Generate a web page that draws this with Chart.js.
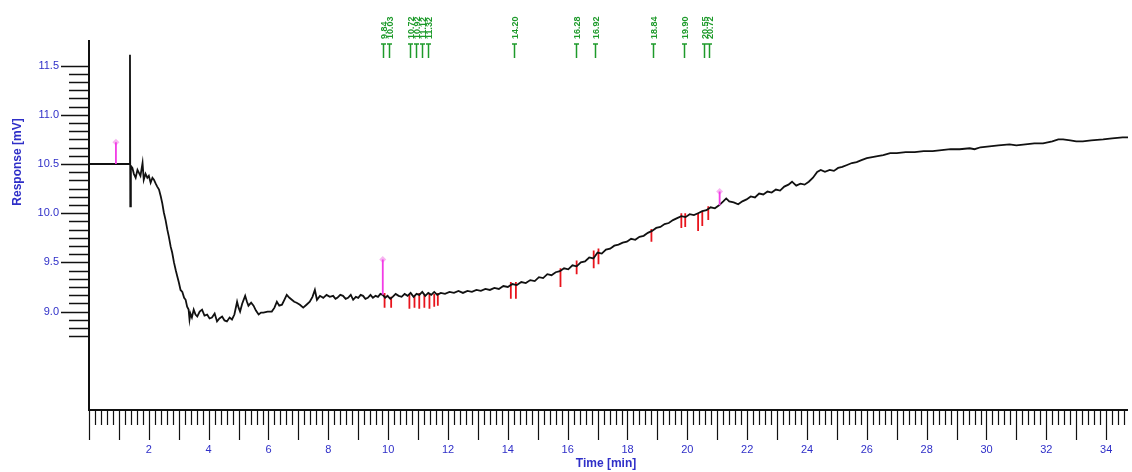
<!DOCTYPE html>
<html>
<head>
<meta charset="utf-8">
<script src="https://cdn.jsdelivr.net/npm/chart.js@4.4.1/dist/chart.umd.min.js"></script>
<style>
  html,body{margin:0;padding:0;background:#fff;}
  canvas{display:block;}
</style>
</head>
<body>
<canvas id="chromChart" width="1132" height="472"></canvas>
<script>
// Trace: time [min] / response [mV]
const times = [0.00,1.36,1.37,1.38,1.40,1.45,1.50,1.56,1.62,1.67,1.72,1.79,1.83,1.89,1.95,2.00,2.06,2.12,2.17,2.23,2.28,2.34,2.40,2.45,2.50,2.56,2.62,2.67,2.73,2.78,2.84,2.90,2.95,3.00,3.06,3.12,3.18,3.23,3.28,3.33,3.36,3.39,3.44,3.50,3.56,3.62,3.70,3.78,3.86,3.95,4.03,4.11,4.20,4.28,4.36,4.45,4.53,4.61,4.70,4.78,4.86,4.95,5.00,5.05,5.12,5.22,5.28,5.33,5.42,5.50,5.58,5.67,5.75,5.83,5.97,6.11,6.20,6.28,6.36,6.45,6.53,6.61,6.70,6.78,6.86,6.94,7.05,7.16,7.27,7.38,7.47,7.55,7.62,7.72,7.83,7.94,
  8.05,8.16,8.24,8.30,8.40,8.49,8.58,8.66,8.75,8.83,8.92,9.00,9.08,9.16,9.24,9.32,9.41,9.49,9.58,9.66,9.74,9.82,9.90,9.98,10.07,10.15,10.25,10.35,10.45,10.55,10.65,10.75,10.85,10.95,11.04,11.14,11.24,11.34,11.44,11.54,11.64,11.76,11.90,12.05,12.20,12.35,12.50,12.65,12.80,12.95,13.10,13.25,13.40,13.55,13.70,13.85,14.00,14.15,14.30,14.45,14.60,14.75,14.90,15.04,15.18,15.32,15.46,15.60,15.74,15.88,16.02,16.16,16.30,16.44,16.58,16.72,16.86,17.00,17.14,17.28,17.42,17.56,17.70,17.84,17.98,18.12,18.26,18.40,18.54,18.68,18.82,18.96,19.10,19.24,19.38,19.52,19.66,19.80,19.94,20.08,20.22,20.36,20.50,20.64,20.78,20.92,21.06,21.20,21.30,21.40,21.55,21.70,21.84,21.98,22.12,22.26,22.40,22.54,22.68,22.82,22.96,23.10,23.24,23.38,23.50,23.64,23.78,23.92,24.06,24.20,24.34,24.46,24.60,24.76,24.90,25.04,25.18,25.34,25.50,25.66,25.82,26.00,26.18,26.36,26.55,26.78,27.00,27.30,27.60,27.90,28.20,28.50,28.80,29.10,29.44,29.60,29.80,30.10,30.40,30.77,31.00,31.30,31.60,31.89,32.20,32.40,32.56,32.80,33.00,33.22,33.50,33.90,34.20,34.55,34.73];
const response = [10.50,10.50,11.61,10.07,10.48,10.46,10.40,10.36,10.44,10.41,10.38,10.51,10.34,10.40,10.36,10.38,10.31,10.36,10.34,10.30,10.27,10.24,10.17,10.10,10.01,9.93,9.83,9.76,9.66,9.60,9.50,9.42,9.36,9.30,9.22,9.20,9.14,9.12,9.05,9.02,8.92,8.98,8.94,9.02,8.97,8.95,9.00,9.02,8.96,8.97,8.93,8.94,8.98,8.90,8.93,8.95,8.91,8.90,8.94,8.92,8.97,9.10,9.04,9.00,9.08,9.16,9.10,9.06,9.09,9.06,9.01,8.97,8.99,8.99,9.00,9.00,9.04,9.10,9.06,9.07,9.12,9.17,9.14,9.12,9.10,9.09,9.07,9.04,9.07,9.10,9.15,9.22,9.12,9.16,9.14,9.17,
  9.15,9.16,9.13,9.14,9.17,9.16,9.13,9.14,9.17,9.12,9.15,9.14,9.17,9.16,9.13,9.14,9.17,9.14,9.16,9.15,9.18,9.17,9.14,9.16,9.13,9.15,9.18,9.16,9.15,9.18,9.16,9.19,9.15,9.18,9.17,9.20,9.16,9.19,9.17,9.20,9.17,9.19,9.18,9.20,9.19,9.21,9.19,9.21,9.20,9.22,9.21,9.23,9.22,9.24,9.23,9.26,9.25,9.28,9.27,9.30,9.29,9.32,9.31,9.35,9.34,9.38,9.37,9.40,9.41,9.44,9.43,9.47,9.46,9.50,9.51,9.55,9.54,9.60,9.59,9.63,9.64,9.67,9.68,9.70,9.71,9.74,9.73,9.76,9.77,9.80,9.82,9.85,9.86,9.89,9.90,9.93,9.95,9.97,9.96,9.99,9.98,10.00,10.02,10.03,10.06,10.05,10.08,10.12,10.15,10.12,10.11,10.09,10.12,10.14,10.17,10.16,10.20,10.19,10.22,10.21,10.24,10.23,10.27,10.29,10.32,10.28,10.30,10.29,10.32,10.36,10.42,10.44,10.42,10.44,10.43,10.46,10.47,10.49,10.51,10.52,10.54,10.56,10.57,10.58,10.59,10.61,10.61,10.62,10.62,10.63,10.63,10.64,10.65,10.65,10.66,10.65,10.67,10.68,10.69,10.70,10.69,10.70,10.71,10.71,10.73,10.75,10.75,10.74,10.73,10.73,10.74,10.75,10.76,10.77,10.77];

// Integration marks (red), peak start / end
const markTimes = [9.88,10.10,10.71,10.88,11.04,11.21,11.38,11.54,11.66,14.10,14.27,15.76,16.30,16.87,17.03,18.80,19.80,19.93,20.36,20.50,20.70];
const markHigh  = [9.19,9.15,9.17,9.16,9.19,9.17,9.18,9.18,9.19,9.30,9.30,9.44,9.52,9.62,9.64,9.84,10.00,10.00,10.00,10.02,10.07];
const markLow   = [9.04,9.04,9.03,9.04,9.03,9.04,9.03,9.05,9.06,9.13,9.13,9.25,9.38,9.44,9.48,9.71,9.85,9.86,9.82,9.87,9.93];

// Events (magenta)
const eventTimes = [0.90,9.82,21.08];
const eventLow   = [10.50,9.17,10.08];
const eventHigh  = [10.72,9.53,10.22];

// Retention time labels on top
const peakTimes  = [9.84,10.03,10.72,10.92,11.12,11.32,14.20,16.28,16.92,18.84,19.90,20.55,20.72];
const peakLabels = ['9.84','10.03','10.72','10.92','11.12','11.32','14.20','16.28','16.92','18.84','19.90','20.55','20.72'];

// Axis ticks
const xTickLabels = [2,4,6,8,10,12,14,16,18,20,22,24,26,28,30,32,34];
const yTickLabels = ['9.0','9.5','10.0','10.5','11.0','11.5'];

const X_MAX = 34.73, Y_MIN = 8.0, Y_MAX = 11.76;
const axisBlue = '#2f2fc8';

function segments(xs, lo, hi){
  const pts = [];
  xs.forEach((t,i) => { pts.push({x:t,y:lo[i]}, {x:t,y:hi[i]}, {x:t,y:null}); });
  return pts;
}

const axesPlugin = {
  id:'chromAxes',
  afterDraw(chart){
    const {ctx, chartArea:a, scales:{x, y}} = chart;
    ctx.save();
    ctx.strokeStyle = '#111';
    ctx.lineWidth = 2;
    ctx.beginPath();
    ctx.moveTo(a.left, a.top); ctx.lineTo(a.left, a.bottom); ctx.lineTo(a.right, a.bottom);
    ctx.stroke();

    // y ticks
    ctx.lineWidth = 1.5;
    for (let v = 8.75; v <= 11.501; v += 0.5/6){
      const py = Math.round(y.getPixelForValue(v)) + 0.5;
      const major = Math.abs(v*2 - Math.round(v*2)) < 0.01;
      ctx.beginPath(); ctx.moveTo(a.left - (major ? 28 : 20), py); ctx.lineTo(a.left, py); ctx.stroke();
    }
    ctx.fillStyle = axisBlue;
    ctx.font = '11px "Liberation Sans", Arial, sans-serif';
    ctx.textAlign = 'right'; ctx.textBaseline = 'middle';
    yTickLabels.forEach(l => ctx.fillText(l, a.left - 30, y.getPixelForValue(parseFloat(l))));

    // x ticks
    ctx.lineWidth = 1.2;
    for (let i = 0; i * 0.2 <= X_MAX; i++){
      const px = Math.round(x.getPixelForValue(i * 0.2)) + 0.5;
      const len = (i % 5 === 0) ? 30 : 15;
      ctx.beginPath(); ctx.moveTo(px, a.bottom); ctx.lineTo(px, a.bottom + len); ctx.stroke();
    }
    ctx.textAlign = 'center';
    xTickLabels.forEach(t => ctx.fillText(String(t), x.getPixelForValue(t), a.bottom + 40));

    // axis titles
    ctx.font = 'bold 12px "Liberation Sans", Arial, sans-serif';
    ctx.fillText('Time [min]', 606, 464);
    ctx.save();
    ctx.translate(18, 162); ctx.rotate(-Math.PI/2);
    ctx.fillText('Response [mV]', 0, 0);
    ctx.restore();

    // peak labels
    ctx.fillStyle = '#1d9a2a'; ctx.strokeStyle = '#1d9a2a';
    ctx.font = 'bold 9px "Liberation Sans", Arial, sans-serif';
    ctx.lineWidth = 1.5;
    peakTimes.forEach((t,i) => {
      const px = Math.round(x.getPixelForValue(t)) + 0.5;
      ctx.save();
      ctx.translate(px + 3.5, 39); ctx.rotate(-Math.PI/2);
      ctx.textAlign = 'left'; ctx.textBaseline = 'alphabetic';
      ctx.fillText(peakLabels[i], 0, 0);
      ctx.restore();
      ctx.beginPath();
      ctx.moveTo(px - 2.5, 44); ctx.lineTo(px + 2.5, 44);
      ctx.moveTo(px, 44); ctx.lineTo(px, 58);
      ctx.stroke();
    });
    ctx.restore();
  }
};

new Chart(document.getElementById('chromChart'), {
  type:'line',
  data:{
    datasets:[
      {
        label:'Trace',
        data: times.map((t,i) => ({x:t, y:response[i]})),
        borderColor:'#111', borderWidth:1.8, pointRadius:0, tension:0, order:1
      },
      {
        label:'Marks',
        data: segments(markTimes, markLow, markHigh),
        borderColor:'#e8141c', borderWidth:1.8, pointRadius:0, spanGaps:false, order:2
      },
      {
        label:'Events',
        data: segments(eventTimes, eventLow, eventHigh),
        borderColor:'#f23ce6', borderWidth:1.8, pointRadius:0, spanGaps:false, order:0
      },
      {
        label:'Event flags',
        data: eventTimes.map((t,i) => ({x:t, y:eventHigh[i]})),
        showLine:false, pointStyle:'rectRot', pointRadius:3.5,
        pointBackgroundColor:'rgba(240,120,230,0.55)', pointBorderWidth:0, order:0
      }
    ]
  },
  options:{
    responsive:false, animation:false,
    layout:{padding:{left:89, right:0, top:40, bottom:62}},
    plugins:{legend:{display:false}, tooltip:{enabled:false}},
    scales:{
      x:{type:'linear', min:0, max:X_MAX, display:false},
      y:{min:Y_MIN, max:Y_MAX, display:false}
    }
  },
  plugins:[axesPlugin]
});
</script>
</body>
</html>
